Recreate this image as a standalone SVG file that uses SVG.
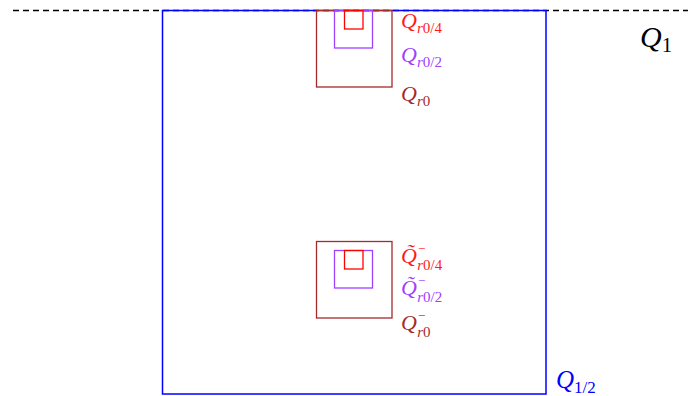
<svg xmlns="http://www.w3.org/2000/svg" width="688" height="396" viewBox="0 0 688 396">
<style>
.lbl{font-family:"Liberation Serif","DejaVu Serif",serif;font-style:italic;font-size:22px}
.s{font-size:15px}
.m{font-size:13px;font-style:normal}
.n{font-style:normal}
.r{fill:#ff1a1a}
.p{fill:#a040ff}
.b{fill:#a52a2a}
</style>
<rect width="688" height="396" fill="#fff"/>
<g id="baseline">
<line x1="13" y1="10.5" x2="688" y2="10.5" stroke="#000" stroke-width="1.3" stroke-dasharray="6,4"/>
</g>
<g id="Q12">
<rect x="162.5" y="10.5" width="383.5" height="383.5" fill="none" stroke="#0000ff" stroke-width="1.5"/>
<text class="lbl" x="556" y="388" style="font-size:25px" fill="#0000ff">Q<tspan class="n" style="font-size:17px" dy="5">1/2</tspan></text>
</g>
<g id="Q1">
<text class="lbl" x="640" y="47" style="font-size:30px" fill="#000">Q<tspan class="n" style="font-size:21px" dy="5">1</tspan></text>
</g>
<g id="top">
<rect x="316.5" y="10.5" width="75.5" height="76.5" fill="none" stroke="#a52a2a" stroke-width="1.3"/>
<rect x="334.5" y="10.5" width="38" height="37.5" fill="none" stroke="#a040ff" stroke-width="1.3"/>
<rect x="344.5" y="10.5" width="18.5" height="18.5" fill="none" stroke="#ff0000" stroke-width="1.3"/>
<text class="lbl r" x="401" y="28">Q<tspan class="s" dy="5">r</tspan><tspan class="s n">0/4</tspan></text>
<text class="lbl p" x="401" y="62">Q<tspan class="s" dy="5">r</tspan><tspan class="s n">0/2</tspan></text>
<text class="lbl b" x="401" y="101">Q<tspan class="s" dy="5">r</tspan><tspan class="s n">0</tspan></text>
</g>
<g id="bottom">
<rect x="316.5" y="241.5" width="75.5" height="76.5" fill="none" stroke="#a52a2a" stroke-width="1.3"/>
<rect x="334.5" y="250.5" width="38" height="37.5" fill="none" stroke="#a040ff" stroke-width="1.3"/>
<rect x="344.5" y="250.5" width="18.5" height="18.5" fill="none" stroke="#ff0000" stroke-width="1.3"/>
<text class="lbl r" x="401" y="263">Q&#771;<tspan class="m" dx="1" dy="-10">−</tspan><tspan class="s" dx="-8" dy="17">r</tspan><tspan class="s n">0/4</tspan></text>
<text class="lbl p" x="401" y="295">Q&#771;<tspan class="m" dx="1" dy="-10">−</tspan><tspan class="s" dx="-8" dy="17">r</tspan><tspan class="s n">0/2</tspan></text>
<text class="lbl b" x="401" y="330">Q<tspan class="m" dx="1" dy="-10">−</tspan><tspan class="s" dx="-8" dy="17">r</tspan><tspan class="s n">0</tspan></text>
</g>
</svg>
